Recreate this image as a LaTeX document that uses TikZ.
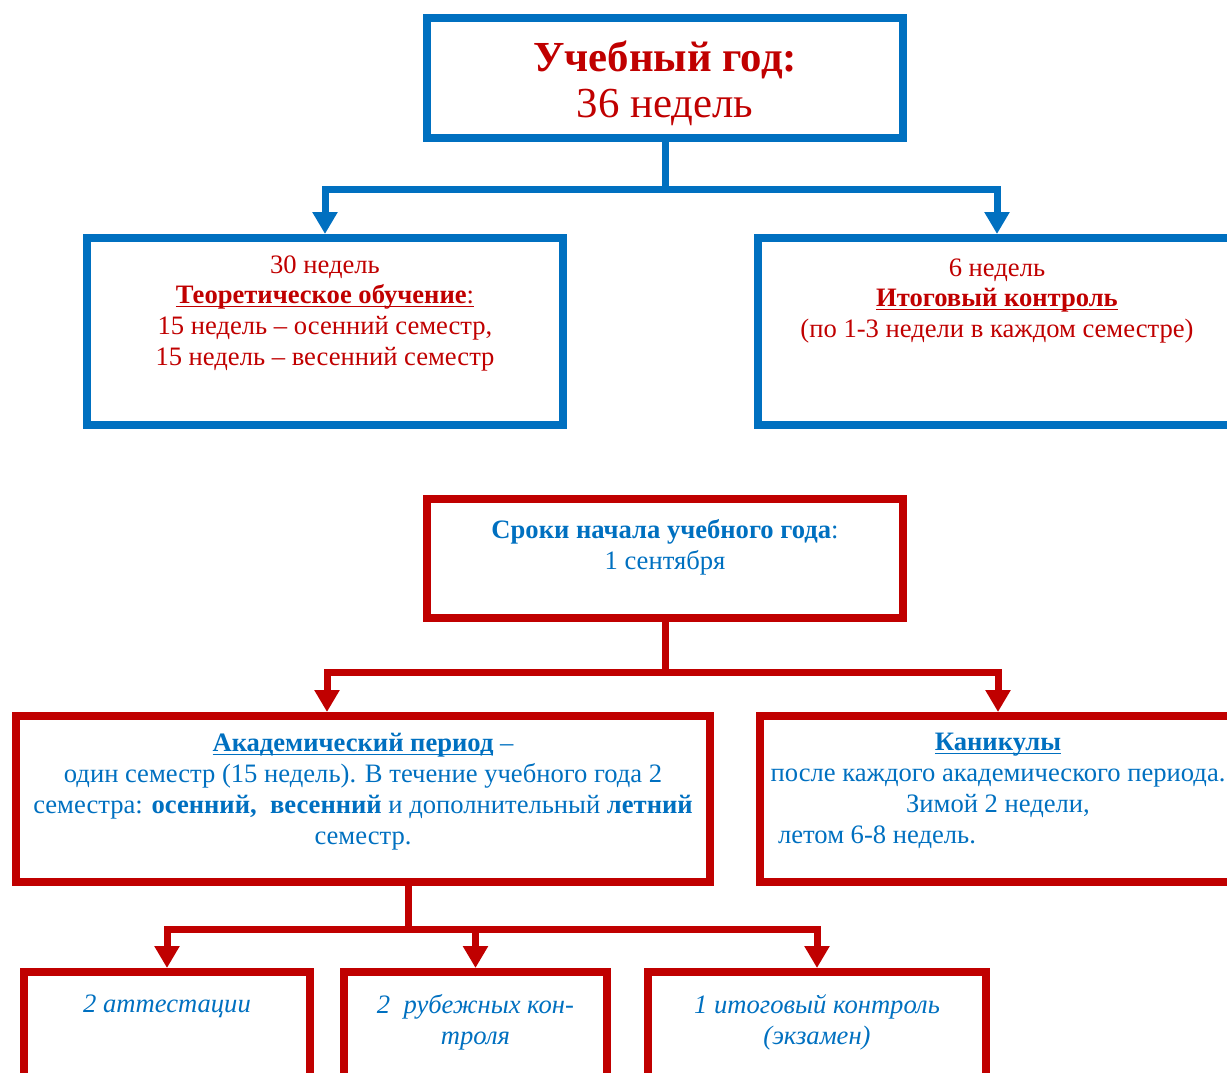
\documentclass[tikz,border=0pt]{standalone}
\usepackage{fontspec}
\setmainfont{Liberation Serif}
\usetikzlibrary{arrows.meta,positioning}
\definecolor{docblue}{HTML}{0070C0}
\definecolor{docred}{HTML}{C00000}
\newcommand{\undl}[1]{\setbox0=\hbox{#1}\rlap{\rule[-1.8pt]{\wd0}{0.9pt}}\box0\relax}
\tikzset{
 frame/.style={draw,line width=4pt,inner sep=0pt},
 bluebox/.style={frame,draw=docblue},
 redbox/.style={frame,draw=docred},
 txt/.style={inner sep=0pt,align=center,font=\fontsize{13.3}{15.4}\selectfont},
 redtxt/.style={txt,text=docred},
 bluetxt/.style={txt,text=docblue},
 link/.style={line width=3.5pt,-{Triangle[length=11pt,width=12pt]}},
 bluelink/.style={link,draw=docblue},
 redlink/.style={link,draw=docred},
}

\begin{document}
\begin{tikzpicture}[x=0.5pt,y=-0.5pt]
        \useasboundingbox (0,0) rectangle (1227,1072);
        \clip (0,0) rectangle (1227,1072);
        % upper block
        \node[bluebox,minimum width=238pt,minimum height=60pt] (year) at (665,78) {};
        \node[bluebox,minimum width=238pt,minimum height=93.5pt] (theory) at (325,331.5) {};
        \node[bluebox,minimum width=239pt,minimum height=93.5pt] (final) at (997,331.5) {};
        \node[redtxt,anchor=north,font=\fontsize{21.4}{23}\selectfont] (yeartxt) [below=13pt of year.north]
            {\textbf{Учебный год:}\\36 недель};
        \node[redtxt,anchor=north] (theorytxt) [below=10.5pt of theory.north]
            {30 недель\\\undl{\textbf{Теоретическое обучение}:}\\15 недель – осенний семестр,\\15 недель – весенний семестр};
        \node[redtxt,anchor=north] (finaltxt) [below=12pt of final.north]
            {6 недель\\\undl{\textbf{Итоговый контроль}}\\(по 1-3 недели в каждом семестре)};
        \draw[bluelink] (year.south) -- ++(0,47) -| (theory.north);
        \draw[bluelink] (year.south) -- ++(0,47) -| (final.north);
        % lower block
        \node[redbox,minimum width=238pt,minimum height=59.5pt] (start) at (665,558.5) {};
        \node[redbox,minimum width=347pt,minimum height=83pt] (acad) at (363,799) {};
        \node[redbox,minimum width=238pt,minimum height=83pt] (hols) at (998,799) {};
        \node[redbox,minimum width=143pt,minimum height=56.5pt] (att) at (167,1028.5) {};
        \node[redbox,minimum width=131.5pt,minimum height=56.5pt] (ctrl) at (475.5,1028.5) {};
        \node[redbox,minimum width=169pt,minimum height=56.5pt] (exam) at (817,1028.5) {};
        \node[bluetxt,anchor=north] (starttxt) [below=12pt of start.north]
            {\textbf{Сроки начала учебного года}:\\1 сентября};
        \node[bluetxt,anchor=north] (acadtxt) [below=10.5pt of acad.north]
            {\undl{\textbf{Академический период}} –\\один семестр (15 недель). В течение учебного года 2\\семестра: \textbf{осенний,}\ \ \textbf{весенний} и дополнительный \textbf{летний}\\семестр.};
        \node[bluetxt,anchor=north] (holstxt) [below=10.5pt of hols.north]
            {\undl{\textbf{Каникулы}}\\после каждого академического периода.\\Зимой 2 недели,\\летом 6-8 недель.\hspace*{121pt}};
        \node[bluetxt,anchor=north,font=\fontsize{13.3}{15.4}\selectfont\itshape] (atttxt) [below=13pt of att.north]
            {2 аттестации};
        \node[bluetxt,anchor=north,font=\fontsize{13.3}{15.4}\selectfont\itshape] (ctrltxt) [below=13pt of ctrl.north]
            {2\ \ рубежных кон-\\троля};
        \node[bluetxt,anchor=north,font=\fontsize{13.3}{15.4}\selectfont\itshape] (examtxt) [below=13pt of exam.north]
            {1 итоговый контроль\\(экзамен)};
        \draw[redlink] (start.south) -- ++(0,50) -| ([xshift=-18pt]acad.north);
        \draw[redlink] (start.south) -- ++(0,50) -| (hols.north);
        \draw[redlink] ([xshift=22.5pt]acad.south) -- ++(0,43) -| (att.north);
        \draw[redlink] ([xshift=22.5pt]acad.south) -- ++(0,43) -| (ctrl.north);
        \draw[redlink] ([xshift=22.5pt]acad.south) -- ++(0,43) -| (exam.north);
\end{tikzpicture}
\end{document}
